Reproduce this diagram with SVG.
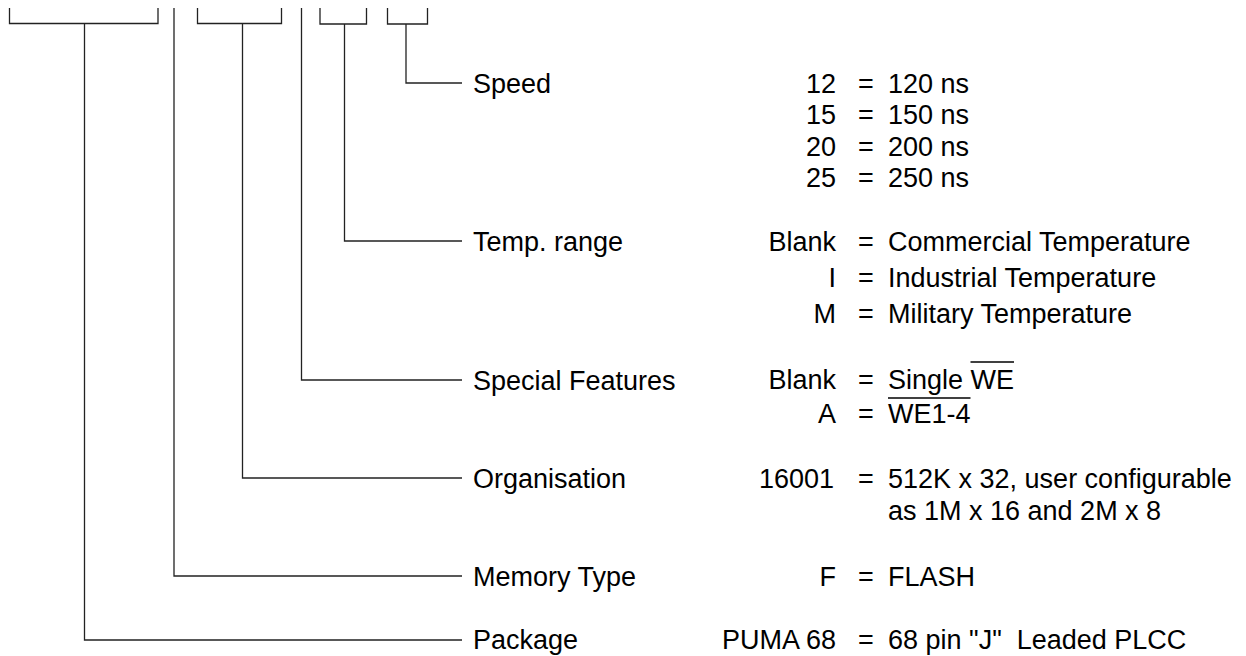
<svg xmlns="http://www.w3.org/2000/svg" width="1246" height="656" viewBox="0 0 1246 656">
<style>
.c{fill:none;stroke:#222;stroke-width:1.3}
text{font-family:"Liberation Sans",Arial,sans-serif;font-size:27px;fill:#000}
.k{text-anchor:end}
.ov{stroke:#000;stroke-width:1.3}
</style>
<rect width="1246" height="656" fill="#fff"/>
<g id="connectors">
<path class="c" d="M9.5,8 V23.5 H158 V8 M84.5,23.5 V640 H462"/>
<path class="c" d="M174,8 V576 H462"/>
<path class="c" d="M197.5,8 V23.5 H281.5 V8 M242.5,23.5 V478 H462"/>
<path class="c" d="M301.5,8 V380 H462"/>
<path class="c" d="M320,8 V24 H366.5 V8 M344.5,24 V241 H462"/>
<path class="c" d="M387.5,8 V24 H427.5 V8 M406,24 V83 H462"/>
</g>
<g id="speed">
<text x="473" y="92.5">Speed</text>
<text class="k" x="836" y="92.5">12</text><text x="858" y="92.5">=</text><text x="888" y="92.5">120 ns</text>
<text class="k" x="836" y="124">15</text><text x="858" y="124">=</text><text x="888" y="124">150 ns</text>
<text class="k" x="836" y="155.5">20</text><text x="858" y="155.5">=</text><text x="888" y="155.5">200 ns</text>
<text class="k" x="836" y="187">25</text><text x="858" y="187">=</text><text x="888" y="187">250 ns</text>
</g>
<g id="temp">
<text x="473" y="250.5">Temp. range</text>
<text class="k" x="836" y="250.5">Blank</text><text x="858" y="250.5">=</text><text x="888" y="250.5">Commercial Temperature</text>
<text class="k" x="836" y="287">I</text><text x="858" y="287">=</text><text x="888" y="287">Industrial Temperature</text>
<text class="k" x="836" y="322.5">M</text><text x="858" y="322.5">=</text><text x="888" y="322.5">Military Temperature</text>
</g>
<g id="special">
<text x="473" y="389.5">Special Features</text>
<text class="k" x="836" y="388.5">Blank</text><text x="858" y="388.5">=</text><text x="888" y="388.5">Single WE</text>
<line class="ov" x1="970.5" y1="362" x2="1014" y2="362"/>
<text class="k" x="836" y="422.5">A</text><text x="858" y="422.5">=</text><text x="888" y="422.5">WE1-4</text>
<line class="ov" x1="888" y1="398" x2="970.5" y2="398"/>
</g>
<g id="organisation">
<text x="473" y="487.5">Organisation</text>
<text class="k" x="834" y="487.5">16001</text><text x="858" y="487.5">=</text><text x="888" y="487.5">512K x 32, user configurable</text>
<text x="888" y="520">as 1M x 16 and 2M x 8</text>
</g>
<g id="memory">
<text x="473" y="585.5">Memory Type</text>
<text class="k" x="836" y="585.5">F</text><text x="858" y="585.5">=</text><text x="888" y="585.5">FLASH</text>
</g>
<g id="package">
<text x="473" y="649">Package</text>
<text class="k" x="836" y="649">PUMA 68</text><text x="858" y="649">=</text><text x="888" y="649" xml:space="preserve">68 pin "J"  Leaded PLCC</text>
</g>
</svg>
